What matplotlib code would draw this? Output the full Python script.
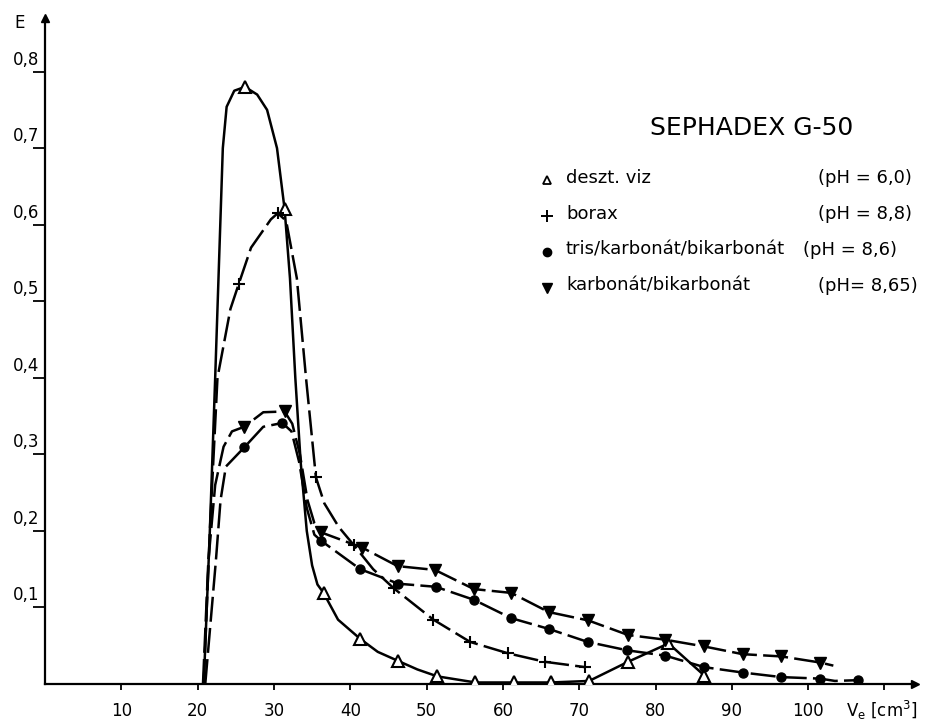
import matplotlib
matplotlib.use("Agg")
import matplotlib.pyplot as plt
from matplotlib.transforms import ScaledTranslation

# ---------------- data ----------------
# deszt. viz (open triangles)
desz_v = [26.2, 31.4, 36.5, 41.3, 46.3, 51.4, 56.4, 61.5, 66.3, 71.3, 76.4, 81.7, 86.4]
desz_E = [0.78, 0.62, 0.119, 0.059, 0.030, 0.010, 0.002, 0.002, 0.002, 0.004, 0.029, 0.053, 0.011]
desz_curve_v = [20.8, 21.6, 22.3, 22.9, 23.3, 23.8, 24.8, 26.2, 27.8, 29.1, 30.4, 31.4, 32.1, 32.8,
                33.5, 34.3, 35.0, 35.7, 36.5, 38.4, 41.3, 43.6, 46.3, 48.8, 51.4, 56.4, 61.5, 66.3,
                71.3, 76.4, 81.7, 86.4]
desz_curve_E = [0.0, 0.20, 0.40, 0.58, 0.70, 0.754, 0.775, 0.78, 0.77, 0.75, 0.70, 0.62, 0.53, 0.40,
                0.29, 0.20, 0.155, 0.13, 0.119, 0.084, 0.059, 0.042, 0.030, 0.019, 0.010, 0.002, 0.002,
                0.002, 0.004, 0.029, 0.053, 0.011]

# borax (+)
borax_v = [25.4, 30.5, 35.5, 40.5, 45.7, 50.9, 55.7, 60.7, 65.5, 70.8]
borax_E = [0.523, 0.615, 0.270, 0.181, 0.125, 0.084, 0.055, 0.040, 0.029, 0.022]
borax_curve_v = [20.8, 21.6, 22.6, 24.3, 25.4, 27.0, 29.6, 30.5, 31.6, 33.0, 34.2, 35.0, 35.5, 36.6,
                 38.5, 40.5, 43.0, 45.7, 50.9, 55.7, 60.7, 65.5, 70.8]
borax_curve_E = [0.0, 0.20, 0.40, 0.49, 0.523, 0.57, 0.607, 0.615, 0.605, 0.53, 0.40, 0.32, 0.27, 0.236,
                 0.205, 0.181, 0.15, 0.125, 0.084, 0.055, 0.040, 0.029, 0.022]

# tris/karbonat/bikarbonat (filled circles)
tris_v = [26.1, 31.1, 36.2, 41.3, 46.3, 51.2, 56.2, 61.1, 66.0, 71.1, 76.3, 81.3, 86.4, 91.4, 96.5, 101.6, 106.5]
tris_E = [0.309, 0.341, 0.187, 0.150, 0.131, 0.127, 0.110, 0.086, 0.072, 0.055, 0.044, 0.037, 0.022,
          0.015, 0.009, 0.007, 0.005]
tris_curve_v = [21.0, 22.4, 23.0, 23.7, 26.1, 28.6, 31.1, 32.3, 33.3, 34.3, 35.3, 36.2, 41.3, 46.3, 51.2,
                56.2, 61.1, 66.0, 71.1, 76.3, 81.3, 86.4, 91.4, 96.5, 101.6, 103.5, 106.5]
tris_curve_E = [0.0, 0.162, 0.24, 0.284, 0.309, 0.336, 0.341, 0.33, 0.29, 0.23, 0.195, 0.187, 0.150, 0.131,
                0.127, 0.110, 0.086, 0.072, 0.055, 0.044, 0.037, 0.022, 0.015, 0.009, 0.007, 0.004, 0.005]

# karbonat/bikarbonat (filled down triangles)
karb_v = [26.1, 31.4, 36.2, 41.6, 46.2, 51.1, 56.2, 61.1, 66.0, 71.2, 76.4, 81.2, 86.4, 91.4, 96.5, 101.6]
karb_E = [0.336, 0.356, 0.198, 0.178, 0.154, 0.149, 0.124, 0.119, 0.094, 0.083, 0.064, 0.058, 0.049,
          0.039, 0.036, 0.028]
karb_curve_v = [20.7, 21.4, 22.3, 23.4, 24.5, 26.1, 28.6, 31.4, 32.4, 33.4, 34.4, 35.3, 36.2, 41.6, 46.2,
                51.1, 56.2, 61.1, 66.0, 71.2, 76.4, 81.2, 86.4, 91.4, 96.5, 101.6, 103.3]
karb_curve_E = [0.0, 0.16, 0.26, 0.31, 0.33, 0.336, 0.355, 0.356, 0.34, 0.30, 0.24, 0.21, 0.198, 0.178,
                0.154, 0.149, 0.124, 0.119, 0.094, 0.083, 0.064, 0.058, 0.049, 0.039, 0.036, 0.028, 0.024]

x_ticks = [10, 20, 30, 40, 50, 60, 70, 80, 90, 100, 110]
x_tick_labels = ["10", "20", "30", "40", "50", "60", "70", "80", "90", "100", r"V$_\mathrm{e}$ [cm$^3$]"]
y_ticks = [0.1, 0.2, 0.3, 0.4, 0.5, 0.6, 0.7, 0.8]
y_tick_labels = ["0,1", "0,2", "0,3", "0,4", "0,5", "0,6", "0,7", "0,8"]

title = "SEPHADEX G-50"
legend_names = ["deszt. viz", "borax", "tris/karbonát/bikarbonát", "karbonát/bikarbonát"]
legend_ph = ["(pH = 6,0)", "(pH = 8,8)", "(pH = 8,6)", "(pH= 8,65)"]

# ---------------- figure ----------------
W, H = 928, 722
fig = plt.figure(figsize=(W / 100, H / 100), dpi=100)
fig.patch.set_facecolor("white")
ax = fig.add_axes([45 / W, 38 / H, 870 / W, 666 / H])
ax.set_xlim(0, 114)
ax.set_ylim(0, 0.87)

for s in ["top", "right"]:
    ax.spines[s].set_visible(False)
for s in ["left", "bottom"]:
    ax.spines[s].set_linewidth(1.6)

ax.set_xticks(x_ticks)
ax.set_xticklabels(x_tick_labels)
ax.set_yticks(y_ticks)
ax.set_yticklabels(y_tick_labels)
ax.tick_params(axis="x", direction="out", length=4, width=1.3, labelsize=12, pad=9)
ax.tick_params(axis="y", direction="out", length=8.6, width=1.3, labelsize=12, pad=0)
for lab in ax.get_yticklabels():
    lab.set_transform(lab.get_transform() + ScaledTranslation(0.06, 0.14, fig.dpi_scale_trans))
xl = ax.get_xticklabels()
xl[-1].set_transform(xl[-1].get_transform() + ScaledTranslation(-0.03, 0.035, fig.dpi_scale_trans))

# axis arrows
ax.plot([0], [1], marker="^", color="black", ms=6, transform=ax.transAxes, clip_on=False)
ax.plot([1], [0], marker=">", color="black", ms=6, transform=ax.transAxes, clip_on=False)

dash = (0, (10, 2.5))
lw = 1.8
ax.plot(desz_curve_v, desz_curve_E, color="black", lw=lw, solid_capstyle="round", zorder=2)
ax.plot(borax_curve_v, borax_curve_E, color="black", lw=lw, linestyle=dash, zorder=2)
ax.plot(tris_curve_v, tris_curve_E, color="black", lw=lw, linestyle=dash, zorder=2)
ax.plot(karb_curve_v, karb_curve_E, color="black", lw=lw, linestyle=dash, zorder=2)

ax.plot(desz_v, desz_E, linestyle="none", marker="^", ms=8, mfc="white", mec="black", mew=1.5, zorder=3)
ax.plot(borax_v, borax_E, linestyle="none", marker="+", ms=9, mec="black", mew=1.5, zorder=3)
ax.plot(tris_v, tris_E, linestyle="none", marker="o", ms=6.5, color="black", zorder=3)
ax.plot(karb_v, karb_E, linestyle="none", marker="v", ms=8, color="black", zorder=3)

# y-axis label
fig.text(20 / W, 1 - 23 / H, "E", fontsize=12, ha="center", va="center")

# title and legend block
fig.text(752 / W, 1 - 128 / H, title, fontsize=18, ha="center", va="center")
rows_y = [178, 214, 250, 286]
ph_x = [818, 818, 803, 818]
marker_styles = [
    dict(marker="^", ms=6, mfc="white", mec="black", mew=1.3),
    dict(marker="+", ms=8, mec="black", mew=1.4),
    dict(marker="o", ms=6, color="black"),
    dict(marker="v", ms=7, color="black"),
]
for name, ph, y, px, ms in zip(legend_names, legend_ph, rows_y, ph_x, marker_styles):
    ax.plot([547 / W], [1 - (y + 2) / H], linestyle="none", transform=fig.transFigure, clip_on=False, **ms)
    fig.text(566 / W, 1 - y / H, name, fontsize=13, ha="left", va="center")
    fig.text(px / W, 1 - y / H, ph, fontsize=13, ha="left", va="center")

fig.savefig("out.png", dpi=100, facecolor="white")
